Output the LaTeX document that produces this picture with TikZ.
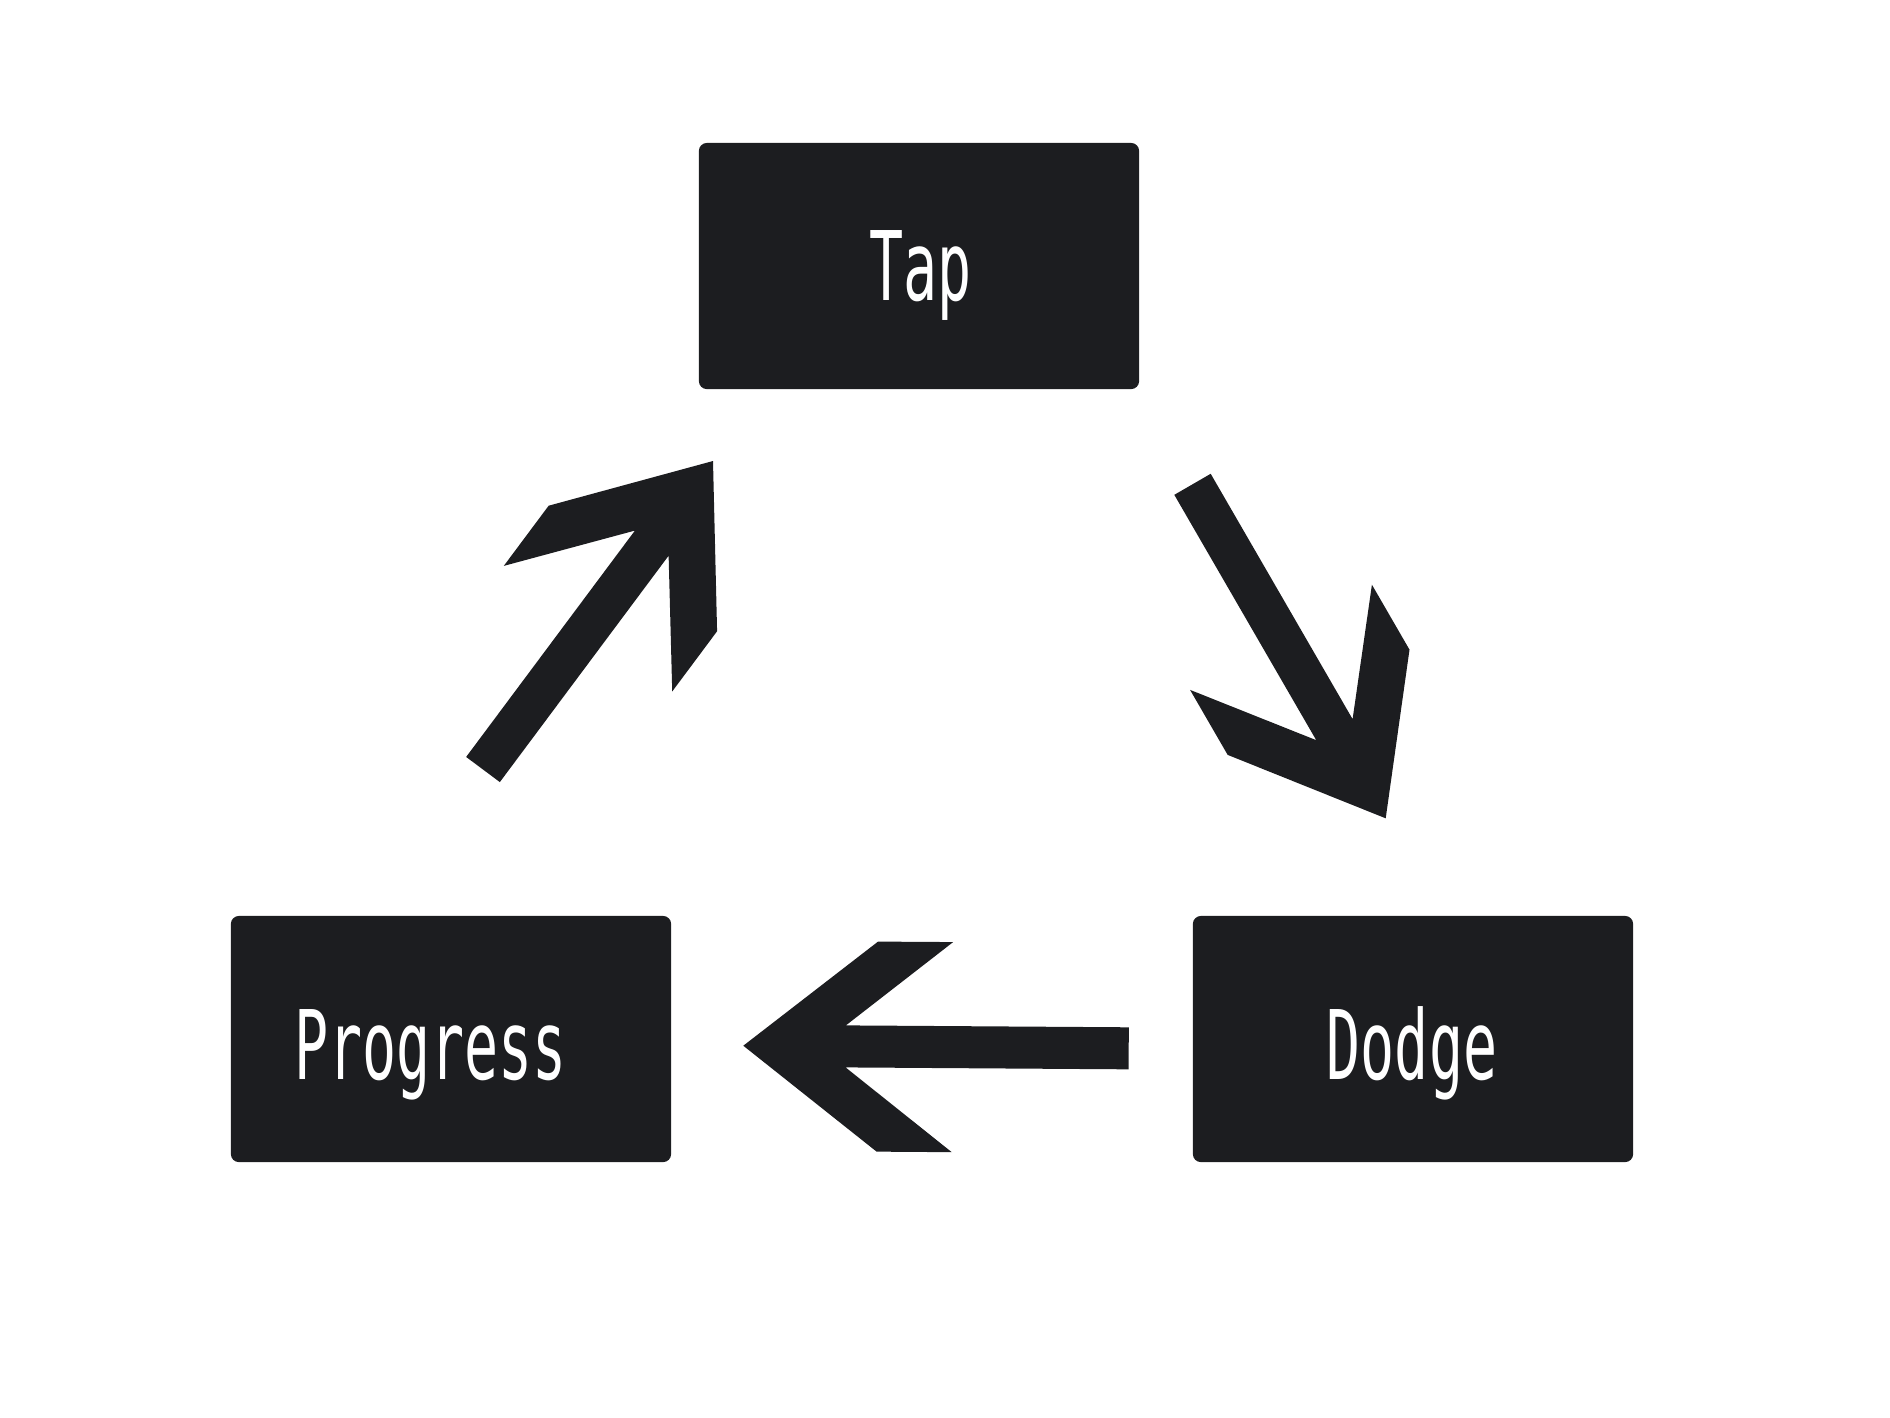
\documentclass[tikz,border=0pt]{standalone}
\usepackage{fontspec}
\usepackage{tikz}
\usetikzlibrary{calc}
\newfontfamily\boxfont[FakeStretch=0.59]{DejaVu Sans Mono}
\definecolor{boxgray}{HTML}{1C1D20}
\tikzset{
  stagebox/.style={fill=boxgray, rounded corners=0.08cm, minimum width=4.4cm, minimum height=2.46cm, inner sep=0pt},
  stagelabel/.style={text=white, anchor=base, inner sep=0pt, font=\boxfont\fontsize{27.3pt}{32pt}\selectfont}
}
% #1 tail, #2 tip
\newcommand{\flowarrow}[2]{\fill[boxgray] (#2) -- ($(#2)!1.702cm!38.08:(#1)$) -- ($(#2)!2.339cm!26.67:(#1)$) -- ($(#2)!1.045cm!11.59:(#1)$) -- ($(#1)!0.21cm!-90:(#2)$) -- ($(#1)!0.21cm!90:(#2)$) -- ($(#2)!1.045cm!-11.59:(#1)$) -- ($(#2)!2.339cm!-26.67:(#1)$) -- ($(#2)!1.702cm!-38.08:(#1)$) -- cycle;}

\begin{document}
\begin{tikzpicture}[x=0.01cm, y=-0.01cm]
    \useasboundingbox (0,0) rectangle (1890,1417);

    \node[stagebox] (tap) at (919,266) {};
    \node[stagebox] (progress) at (451,1039) {};
    \node[stagebox] (dodge) at (1413,1039) {};

    \node[stagelabel] (taplabel) at (920.5,300) {Tap};
    \node[stagelabel] (progresslabel) at (430.5,1079) {Progress};
    \node[stagelabel] (dodgelabel) at (1412,1079) {Dodge};

    \coordinate (uptail) at (483,769.5);
    \coordinate (uptip) at (713,461);
    \coordinate (downtail) at (1192.5,484.3);
    \coordinate (downtip) at (1385.7,818.3);
    \coordinate (backtail) at (1128.7,1048.3);
    \coordinate (backtip) at (743.3,1045.7);

    \flowarrow{uptail}{uptip}
    \flowarrow{downtail}{downtip}
    \flowarrow{backtail}{backtip}
\end{tikzpicture}
\end{document}
